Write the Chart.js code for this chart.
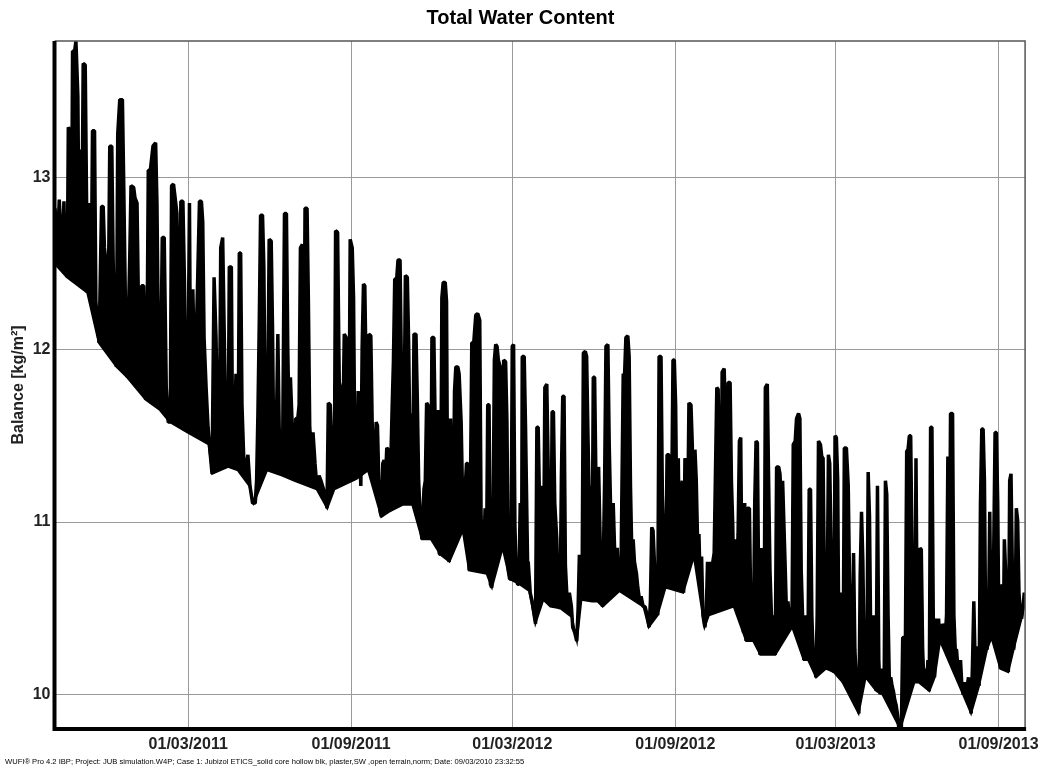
<!DOCTYPE html>
<html>
<head>
<meta charset="utf-8">
<title>Total Water Content</title>
<script src="https://cdn.jsdelivr.net/npm/chart.js@4.4.1/dist/chart.umd.min.js"></script>
<style>
  html, body { margin: 0; padding: 0; background: #fff; }
  #chart { display: block; }
</style>
</head>
<body>
<canvas id="chart" width="1045" height="771"></canvas>
<script>
// x = days since 01/10/2010, y = water content [kg/m2]
var autumn2010 = [
  [0.6,12.82],[3.2,12.59],[5.4,12.87],[8.1,12.53],[10.7,12.86],[11.8,12.50],[13.7,12.69],[14.4,12.42],
  [15.6,13.29],[17.4,13.27],[19.3,12.66],[20.4,13.73],[22.7,13.73],[24.2,13.79],[26.4,13.47],[27.9,12.43],
  [29.4,13.16],[30.9,12.66],[32.4,13.66],[34.7,13.65],[36.2,12.87],[37.0,12.33],[40.0,12.85],[41.4,12.30],
  [42.9,13.27],[45.2,13.27],[46.7,12.28],[48.2,12.17],[50.4,12.04],[53.1,12.83],[55.0,12.83],[56.4,12.59],
  [58.7,12.48],[60.2,11.98],[62.4,13.18],[64.7,13.18],[66.2,12.53],[67.7,12.12],[69.9,11.90],[71.4,13.25],
  [73.7,13.45],[76.7,13.45],[78.2,12.95],[80.4,12.15],[81.9,11.84],[84.9,12.52],[86.4,12.95],[89.4,12.94],
  [90.9,12.88],[93.2,12.85],[95.4,12.04],[96.9,12.02],[98.4,12.37],[100.7,12.37],[102.9,11.71],[104.4,11.96],
  [105.9,13.04],[108.2,13.04],[111.2,13.18],[114.2,13.20],[115.7,12.85],[117.2,12.09],[119.4,11.65],[121.7,12.65],
  [123.9,12.65],[126.2,11.78],[128.4,11.58],[130.7,11.58],[132.2,12.95],[134.4,12.96],[136.7,12.86],[138.2,12.79],
  [140.4,11.86],[142.7,12.86],[145.0,12.86],[146.8,12.38],[148.7,11.55],[150.2,11.54],[152.4,12.85],[153.9,11.52],
  [156.2,12.35],[157.7,11.99],[159.9,12.02],[163.7,12.86],[165.9,12.86],[167.4,12.74],[168.9,12.07],[171.2,11.78],
  [173.4,11.55]
];
var spring2011 = [
  [174.9,11.45],[177.9,11.28],[180.2,12.42],[182.4,12.07],[184.3,11.52],[186.2,11.45],[187.7,12.59],[189.9,12.65],
  [192.2,11.93],[193.7,11.45],[195.9,11.34],[197.4,12.48],[199.7,12.48],[201.2,11.39],[202.7,11.34],[204.9,11.86],
  [207.2,11.32],[208.7,12.56],[210.2,12.56],[211.7,11.68],[213.9,11.34],[216.2,11.32],[218.4,11.39],[220.7,11.21],
  [223.7,11.11],[226.7,11.11],[228.2,11.24],[229.7,11.63],[231.2,12.15],[232.7,12.78],[234.9,12.78],[236.4,12.48],
  [237.9,11.63],[240.2,11.34],[242.4,12.64],[244.7,12.63],[246.2,12.12],[247.7,11.34],[249.9,11.34],[252.2,12.09],
  [253.7,11.55],[255.2,11.34],[257.4,11.27],[259.7,12.79],[261.9,12.79],[263.4,12.02],[264.9,11.55],[266.4,11.84],
  [268.7,11.52],[270.9,11.24],[272.4,11.60],[274.7,11.60],[276.2,11.68],[277.7,12.59],[279.9,12.61],[281.4,11.55],
  [282.9,12.82],[285.2,12.82],[286.7,12.28],[288.2,11.55],[289.7,11.45],[291.9,11.52],[294.2,11.34],[296.4,11.19],
  [298.7,11.27],[300.9,11.24],[303.2,11.20],[305.4,11.16],[307.7,11.08],[309.2,11.69],[311.4,11.68],[312.9,11.47],
  [314.4,11.24],[315.9,11.19],[317.4,12.69],[319.7,12.68],[321.2,11.96],[322.7,11.34],[324.2,11.76],[326.4,11.81],
  [327.2,12.09],[329.4,12.07],[330.9,11.50],[332.4,11.34],[333.9,12.64],[336.2,12.59],[337.7,12.30],[339.2,11.34],
  [341.4,11.27],[342.9,11.76],[344.4,11.45],[345.9,11.21],[347.4,12.02],[348.9,12.38],[350.4,12.37],[351.9,11.86],
  [354.2,11.37]
];
var autumn2011 = [
  [354.9,12.09],[357.2,12.08],[358.7,11.58],[360.2,11.34],[361.7,11.27],[363.2,11.58],[364.7,11.56],[366.2,11.24],
  [367.7,11.06],[369.2,11.03],[370.7,11.34],[372.2,11.36],[373.7,11.24],[375.2,11.43],[376.7,11.42],[378.2,11.06],
  [379.7,11.34],[381.2,11.65],[382.7,11.93],[384.2,12.41],[386.4,12.41],[387.9,12.52],[390.2,12.52],[391.7,11.89],
  [393.2,11.16],[394.7,11.52],[396.2,12.43],[398.4,12.42],[399.9,12.04],[401.4,11.42],[402.9,11.63],[404.4,11.14],
  [405.9,12.09],[408.2,12.09],[409.7,11.71],[411.2,11.24],[413.4,10.98],[414.9,10.90],[417.2,11.19],[418.7,11.24],
  [420.2,11.69],[421.7,11.68],[423.2,11.39],[424.7,10.90],[426.2,12.07],[428.4,12.07],[429.9,11.55],[431.4,11.24],
  [432.9,11.65],[434.4,10.82],[435.9,10.81],[437.4,12.30],[438.9,12.39],[441.2,12.39],[442.7,12.28],[444.2,10.80],
  [445.7,10.77],[447.2,11.60],[448.7,11.11],[450.2,10.98],[451.7,11.76],[453.2,11.90],[455.4,11.90],[456.9,11.86],
  [459.2,11.58],[461.4,10.98],[463.7,11.19],[465.2,11.34],[466.7,11.34],[468.2,10.72],[469.7,11.21],[471.2,12.04],
  [473.4,12.04],[475.7,12.20],[477.9,12.21],[480.2,12.17],[481.7,11.03],[483.2,10.85],[484.7,10.77],[486.2,11.08],
  [487.7,10.70],[489.2,11.68],[490.7,11.68],[492.2,10.64],[493.7,10.62],[495.2,10.98],[496.7,11.94],[498.2,12.03],
  [499.7,12.02],[501.2,11.94],[503.4,11.90],[505.7,10.90],[507.2,11.94],[509.4,11.93],[510.9,11.58],[512.4,10.72],
  [513.9,10.67],[515.4,10.67],[516.9,12.02],[518.4,12.03],[519.9,10.98],[521.4,10.70],[522.9,10.64],[524.4,10.64],
  [525.9,11.11],[527.4,10.64],[528.2,11.96],[530.4,11.96],[531.9,11.55],[534.2,10.77]
];
var spring2012 = [
  [534.9,10.77],[537.2,10.59],[539.4,10.54],[541.7,10.46],[543.2,10.41],[544.7,11.55],[546.2,11.55],[547.7,11.11],
  [549.2,10.75],[550.7,11.21],[552.2,10.64],[553.7,11.78],[555.9,11.80],[557.4,11.34],[558.9,10.67],[560.4,10.51],
  [561.9,11.64],[563.4,11.64],[564.9,11.11],[567.2,10.90],[568.7,10.51],[570.9,10.50],[572.4,11.27],[573.9,11.73],
  [575.4,11.73],[576.9,10.75],[579.2,10.51],[581.4,10.59],[583.7,10.51],[585.2,10.39],[587.4,10.36],[589.7,10.31],
  [591.2,10.49],[592.7,10.81],[594.2,10.72],[595.7,10.57],[597.2,11.98],[599.4,11.99],[600.9,11.96],[602.4,11.50],
  [603.9,11.11],[605.4,11.21],[606.9,10.54],[608.4,11.84],[609.9,11.84],[611.4,11.24],[612.9,10.54],[614.4,11.32],
  [615.9,10.95],[617.4,10.57],[618.9,10.51],[621.2,11.24],[622.7,12.02],[624.9,12.03],[626.4,11.45],[628.7,10.90],
  [630.9,11.11],[633.2,10.72],[635.4,10.85],[636.9,10.67],[638.4,10.64],[639.9,10.80],[642.2,11.86],[643.7,11.85],
  [645.2,12.07],[647.4,12.08],[648.9,11.96],[650.4,11.21],[651.9,10.82],[653.4,10.90],[654.9,10.77],[657.2,10.70],
  [658.7,10.62],[660.9,10.54],[662.4,10.57],[664.7,10.51],[666.9,10.51],[669.2,10.46],[671.4,10.39],[672.9,10.54],
  [674.4,10.97],[675.9,10.95],[677.4,10.77],[678.9,10.51],[681.2,10.46],[682.7,11.96],[684.9,11.96],[686.4,11.16],
  [687.9,10.88],[690.2,10.67],[691.7,11.39],[693.9,11.39],[695.4,10.72],[696.9,11.11],[698.4,11.94],[699.9,11.94],
  [701.4,11.68],[702.9,10.93],[704.4,11.37],[705.9,10.67],[707.4,11.16],[708.9,11.24],[710.4,10.59],[711.9,11.37],
  [713.4,11.34]
];
var autumn2012 = [
  [714.9,10.98],[716.4,11.69],[718.7,11.68],[720.2,11.45],[721.7,10.85],[723.2,11.42],[724.7,11.24],[726.2,10.88],
  [727.7,10.93],[729.2,10.62],[730.7,10.80],[732.2,10.46],[734.4,10.39],[735.9,10.46],[737.4,10.77],[738.9,10.46],
  [740.4,10.77],[741.9,10.59],[743.4,10.77],[744.9,10.82],[746.4,11.30],[747.9,11.78],[749.4,11.77],[750.9,11.24],
  [752.4,10.75],[753.9,11.87],[756.2,11.89],[757.7,11.58],[759.2,11.14],[760.7,11.81],[762.9,11.81],[764.4,11.24],
  [765.9,10.98],[767.4,10.51],[768.9,10.90],[770.4,10.72],[771.9,10.93],[773.4,11.47],[774.9,11.49],[776.4,10.57],
  [777.9,10.36],[779.4,11.11],[780.9,10.31],[782.4,11.08],[784.7,11.08],[786.2,10.51],[787.7,10.36],[789.2,10.31],
  [790.7,11.11],[792.2,11.47],[793.7,11.46],[795.2,10.59],[796.7,10.23],[798.2,10.85],[799.7,10.62],[801.2,10.23],
  [802.7,11.78],[804.9,11.80],[806.4,11.24],[807.9,10.72],[809.4,10.49],[810.9,10.33],[812.4,10.46],[813.9,10.23],
  [815.4,11.32],[817.7,11.32],[819.2,11.28],[820.7,11.11],[822.2,11.24],[823.7,10.98],[825.2,10.72],[826.7,10.44],
  [828.2,10.54],[830.4,10.41],[832.7,10.39],[834.2,11.45],[836.4,11.47],[837.9,11.60],[840.2,11.63],[841.7,11.60],
  [843.2,10.72],[844.7,10.46],[846.2,10.20],[847.7,10.46],[849.2,10.33],[850.7,10.20],[852.2,11.19],[853.7,11.19],
  [855.2,10.46],[856.7,10.23],[858.2,10.20],[859.7,10.10],[861.2,10.46],[862.7,11.47],[864.9,11.45],[866.4,11.38],
  [867.9,11.37],[869.4,10.64],[870.9,10.15],[872.4,10.46],[873.9,11.39],[875.4,11.34],[876.9,10.85],[878.4,10.15],
  [879.9,10.13],[881.4,11.50],[882.9,11.49],[884.4,11.24],[885.9,10.10],[887.4,10.59],[888.9,10.57],[890.4,10.07],
  [891.9,11.43],[894.2,11.43]
];
var spring2013 = [
  [896.3,11.21],[897.8,10.64],[899.3,10.26],[900.8,10.23],[902.3,10.82],[903.8,10.26],[905.3,10.10],[906.8,10.02],
  [908.3,9.89],[909.8,10.70],[911.3,11.06],[912.8,10.77],[914.3,10.20],[915.8,10.10],[917.3,10.15],[918.8,11.29],
  [920.3,11.03],[921.8,10.26],[923.3,10.10],[924.8,10.46],[926.3,10.26],[927.8,10.02],[929.3,11.21],[930.8,10.20],
  [932.3,10.00],[933.8,10.15],[935.3,10.00],[936.8,10.02],[938.3,11.24],[939.8,11.16],[941.3,10.46],[942.8,10.05],
  [944.3,10.10],[945.8,10.05],[947.3,10.02],[948.8,9.97],[950.3,9.94],[951.8,9.89],[953.3,9.81],[954.8,9.80],
  [956.3,9.81],[957.8,10.33],[959.3,10.33],[960.8,10.26],[962.3,11.41],[963.8,11.42],[965.3,11.50],[966.8,11.50],
  [968.3,10.85],[969.8,10.26],[971.3,10.07],[972.8,11.37],[974.3,10.26],[975.8,10.07],[977.3,10.85],[978.8,10.84],
  [980.3,10.26],[981.8,10.07],[983.3,10.15],[984.8,10.05],[986.3,10.20],[987.8,10.02],[989.3,11.55],[990.8,11.55],
  [992.3,10.46],[993.8,10.10],[995.3,10.44],[996.8,10.28],[998.3,10.44],[999.8,10.31],[1001.3,10.33],[1002.8,10.41],
  [1004.3,10.39],[1005.8,10.33],[1007.3,10.46],[1008.8,11.38],[1010.3,10.39],[1011.8,11.63],[1014.1,11.63],[1015.6,10.46],
  [1017.1,10.26],[1018.6,10.26],[1020.1,10.15],[1021.6,10.07],[1023.1,10.20],[1024.6,10.05],[1026.1,10.00],[1027.6,10.07],
  [1029.1,10.05],[1030.6,10.05],[1032.1,10.10],[1033.6,9.97],[1035.1,9.89],[1036.6,10.18],[1038.1,10.54],[1039.6,10.18],
  [1041.1,10.10],[1042.6,10.28],[1044.1,10.05],[1045.6,11.11],[1047.1,11.54],[1048.6,11.54],[1050.1,11.24],[1051.6,10.31],
  [1053.1,10.26],[1054.6,10.39],[1056.1,11.06],[1057.6,10.33],[1059.1,10.36],[1060.6,10.85],[1062.1,11.52],[1063.6,11.52],
  [1065.1,11.11],[1066.6,10.26],[1068.1,10.15],[1069.6,10.64],[1071.1,10.20],[1072.6,10.90],[1074.1,10.70],[1075.6,10.46],
  [1077.1,10.13],[1078.6,11.24],[1080.1,11.28],[1081.6,10.72],[1083.1,10.26],[1084.6,10.36],[1086.1,11.08],[1087.6,11.01],
  [1089.1,10.59],[1090.6,10.46],[1092.1,10.44],[1093.6,10.51],[1095.1,10.59],[1096.0,10.54]
];
// lower edge of the dense daily swings (the solid black band under the curve)
var lowerEdge = [
  [0,12.50],[14,12.42],[37,12.33],[50,12.04],[70,11.90],[82,11.84],[103,11.71],[119,11.65],[130,11.58],
  [150,11.52],[174,11.45],[178,11.28],[196,11.32],[207,11.30],[220,11.21],[225,11.11],[240,11.30],[257,11.27],
  [271,11.24],[296,11.19],[308,11.08],[316,11.19],[341,11.25],[354,11.30],[369,11.03],[378,11.06],[393,11.10],
  [404,11.10],[415,10.90],[425,10.90],[436,10.81],[446,10.77],[461,10.95],[468,10.72],[488,10.70],[494,10.62],
  [506,10.85],[514,10.67],[525,10.64],[536,10.60],[543,10.41],[552,10.55],[560,10.51],[571,10.50],[584,10.45],
  [590,10.31],[595,10.55],[607,10.54],[613,10.54],[619,10.51],[638,10.60],[665,10.51],[671,10.39],[681,10.46],
  [690,10.62],[710,10.59],[722,10.80],[734,10.39],[739,10.46],[767,10.51],[781,10.31],[789,10.31],[797,10.23],
  [814,10.23],[833,10.39],[846,10.20],[851,10.20],[860,10.10],[871,10.15],[880,10.13],[890,10.07],[908,9.89],
  [916,10.10],[928,10.02],[935,10.00],[955,9.80],[971,10.07],[976,10.07],[988,10.02],[994,10.10],[1000,10.31],
  [1026,10.00],[1035,9.89],[1044,10.05],[1053,10.26],[1058,10.33],[1068,10.15],[1077,10.13],[1083,10.26],
  [1092,10.44],[1096,10.54]
];

var tickDays = [151, 335, 517, 701, 882, 1066];
var tickLabels = ['01/03/2011', '01/09/2011', '01/03/2012', '01/09/2012', '01/03/2013', '01/09/2013'];
var yTicks = [10, 11, 12, 13];
var footerText = 'WUFI\u00ae Pro 4.2 IBP; Project: JUB simulation.W4P; Case 1: Jubizol ETICS_solid core hollow blk, plaster,SW ,open terrain,norm; Date: 09/03/2010 23:32:55';

var fontFamily = '"Liberation Sans", Arial, Helvetica, sans-serif';

function toXY(list) {
    return list.map(function (p) { return { x: p[0], y: p[1] }; });
}
var allPoints = toXY([].concat(autumn2010, spring2011, autumn2011, spring2012, autumn2012, spring2013));

// thin top/right frame, thick left/bottom axes and the footer line
var frameAndFooter = {
    id: 'frameAndFooter',
    afterDatasetsDraw: function (chart) {
        var ctx = chart.ctx, a = chart.chartArea;
        ctx.save();
        ctx.strokeStyle = '#555';
        ctx.lineWidth = 1.5;
        ctx.beginPath();
        ctx.moveTo(a.left, a.top);
        ctx.lineTo(a.right, a.top);
        ctx.lineTo(a.right, a.bottom);
        ctx.stroke();
        ctx.strokeStyle = '#000';
        ctx.lineWidth = 4;
        ctx.beginPath();
        ctx.moveTo(a.left, a.top);
        ctx.lineTo(a.left, a.bottom);
        ctx.lineTo(a.right + 1, a.bottom);
        ctx.stroke();
        ctx.restore();
    },
    afterDraw: function (chart) {
        var ctx = chart.ctx;
        ctx.save();
        ctx.fillStyle = '#000';
        ctx.font = '7.6px ' + fontFamily;
        ctx.textBaseline = 'middle';
        ctx.textAlign = 'left';
        ctx.fillText(footerText, 5, 762);
        ctx.restore();
    }
};

new Chart(document.getElementById('chart'), {
    type: 'line',
    data: {
        datasets: [{
            label: 'Total Water Content',
            data: allPoints,
            borderColor: '#000',
            backgroundColor: '#000',
            borderWidth: 3.5,
            borderJoinStyle: 'bevel',
            pointRadius: 0,
            tension: 0,
            fill: 1
        }, {
            label: 'lower edge',
            data: toXY(lowerEdge),
            borderColor: '#000',
            borderWidth: 2,
            pointRadius: 0,
            tension: 0,
            fill: false
        }]
    },
    options: {
        responsive: false,
        animation: false,
        devicePixelRatio: 1,
        layout: { padding: { left: 12, right: 16, top: 0, bottom: 14 } },
        plugins: {
            legend: { display: false },
            tooltip: { enabled: false },
            title: {
                display: true,
                text: 'Total Water Content',
                color: '#000',
                font: { family: fontFamily, size: 20, weight: 'bold' },
                padding: { top: 6, bottom: 11 }
            }
        },
        scales: {
            x: {
                type: 'linear',
                min: 0,
                max: 1096,
                afterBuildTicks: function (scale) {
                    scale.ticks = tickDays.map(function (v) { return { value: v }; });
                },
                afterFit: function (scale) { scale.height = 28; },
                ticks: {
                    autoSkip: false,
                    maxRotation: 0,
                    padding: 6,
                    color: '#222',
                    font: { family: fontFamily, size: 16, weight: 'bold' },
                    callback: function (value, index) { return tickLabels[index]; }
                },
                grid: { color: '#9a9a9a', lineWidth: 1, drawTicks: false },
                border: { display: false }
            },
            y: {
                min: 9.8,
                max: 13.79,
                afterBuildTicks: function (scale) {
                    scale.ticks = yTicks.map(function (v) { return { value: v }; });
                },
                afterFit: function (scale) { scale.width = 42.5; },
                title: {
                    display: true,
                    text: 'Balance [kg/m\u00b2]',
                    color: '#222',
                    font: { family: fontFamily, size: 16, weight: 'bold' },
                    padding: { top: -3, bottom: 0 }
                },
                ticks: {
                    padding: 4,
                    color: '#222',
                    font: { family: fontFamily, size: 16, weight: 'bold' }
                },
                grid: { color: '#9a9a9a', lineWidth: 1, drawTicks: false },
                border: { display: false }
            }
        }
    },
    plugins: [frameAndFooter]
});
</script>
</body>
</html>
